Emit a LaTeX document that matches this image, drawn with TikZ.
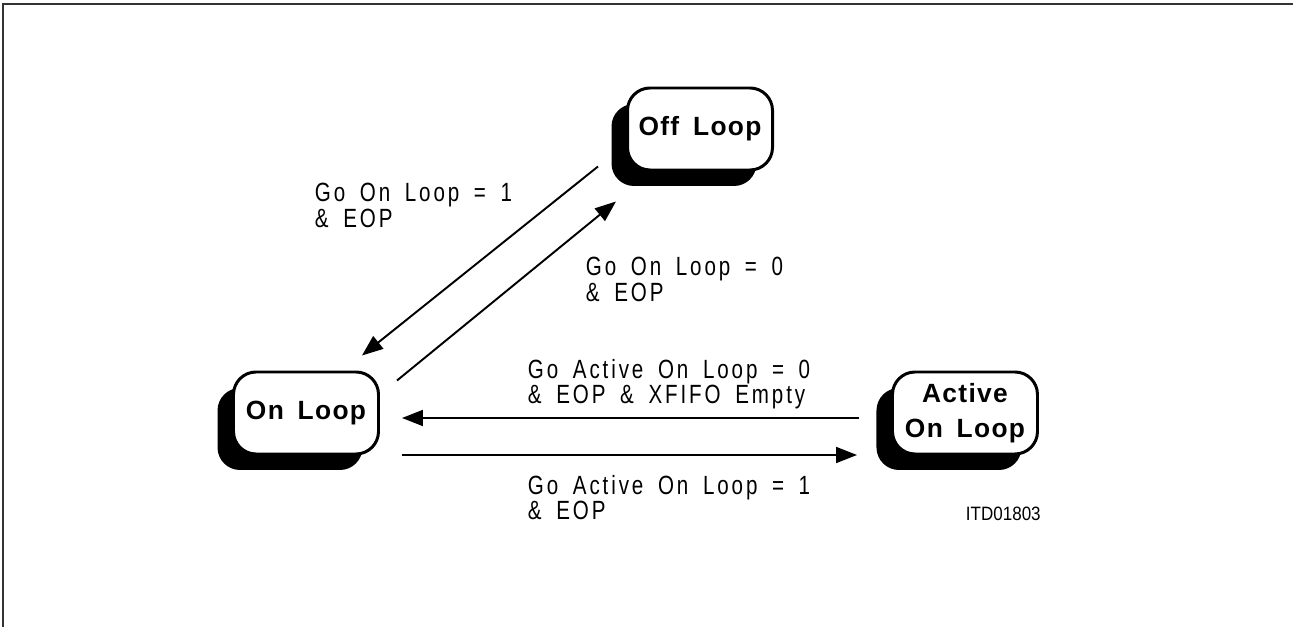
\documentclass[tikz,border=0pt]{standalone}
\usepackage{fontspec}
\setmainfont{Liberation Sans}
\newfontfamily\lblfont[LetterSpace=11,FakeStretch=0.78,WordSpace=1.7]{Liberation Sans}
\newfontfamily\boxfont[LetterSpace=5,WordSpace=1.6]{Liberation Sans}
\newfontfamily\idfont[FakeStretch=0.88]{Liberation Sans}
\usetikzlibrary{arrows.meta,positioning,shadows}

\begin{document}
\begin{tikzpicture}[->,>={Triangle[length=0.42cm,width=0.32cm]},line width=1.1pt,font=\small]
  \tikzstyle{loopstate}=[draw,fill=white,line width=1.7pt,rounded corners=0.45cm,minimum width=2.9cm,minimum height=1.64cm,align=center,
    font=\boxfont\bfseries\fontsize{15}{20}\selectfont,
    drop shadow={shadow xshift=-0.32cm,shadow yshift=-0.32cm,fill=black,opacity=1}]
  \tikzstyle{cond}=[anchor=north west,inner sep=0pt,align=left,font=\lblfont\fontsize{15}{14.6}\selectfont]

  \useasboundingbox (0,0) rectangle (25.86,-12.54);
  \draw[-,line width=1.3pt,black!80] (0.06,-12.54) -- (0.06,-0.08) -- (25.86,-0.08);

  \node[loopstate] (OnLoop) at (6.12,-8.26) {On Loop};
  \node[loopstate,right=10.22cm of OnLoop] (ActOn) {Active\\On Loop};
  \node[loopstate] (OffLoop) at (14.0,-2.58) {Off Loop};

  \draw ([shift={(-0.56,0.1)}]OffLoop.south west) -- ([shift={(-0.36,0.3)}]OnLoop.north east);
  \draw ([shift={(0.34,-0.2)}]OnLoop.north east) -- ([shift={(-0.2,-0.6)}]OffLoop.south west);
  \draw[shorten <=0.64cm,shorten >=0.44cm] ([yshift=-0.1cm]ActOn.west) -- ([yshift=-0.1cm]OnLoop.east);
  \draw[shorten <=0.44cm,shorten >=0.68cm] ([yshift=-0.84cm]OnLoop.east) -- ([yshift=-0.84cm]ActOn.west);

  \node[cond] (condA) at (6.28,-3.64) {Go On Loop = 1\\\& EOP};
  \node[cond] (condB) at (11.7,-5.12) {Go On Loop = 0\\\& EOP};
  \node[cond] (condC) at (10.54,-7.16) {Go Active On Loop = 0\\\& EOP \& XFIFO Empty};
  \node[cond] (condD) at (10.54,-9.48) {Go Active On Loop = 1\\\& EOP};

  \node[anchor=north west,inner sep=0pt,font=\idfont\fontsize{11}{12}\selectfont] (figid) at (19.3,-10.12) {ITD01803};
\end{tikzpicture}
\end{document}
